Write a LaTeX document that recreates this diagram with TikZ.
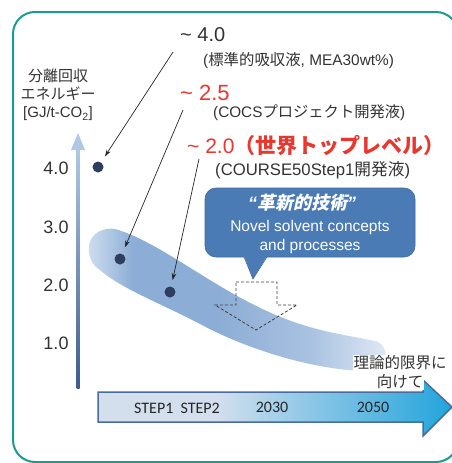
\documentclass[tikz,border=0pt]{standalone}
\usepackage{fontspec}
\setmainfont{Liberation Sans}
\newfontfamily\cjk{Noto Sans CJK JP}
\newfontfamily\cjkit[FakeSlant=0.22]{Noto Sans CJK JP}
\newfontfamily\carl{Carlito}
\usetikzlibrary{arrows.meta}
\definecolor{frameteal}{HTML}{1B9A90}
\definecolor{txtgray}{HTML}{333333}
\definecolor{redtxt}{HTML}{E8372E}
\definecolor{dotblue}{HTML}{2F3D5E}
\definecolor{axtop}{HTML}{AFC8E3}
\definecolor{axbot}{HTML}{3D5C8C}
\definecolor{bandL}{HTML}{D3E2F2}
\definecolor{bandM}{HTML}{8CADD5}
\definecolor{bandN}{HTML}{A9C2E1}
\definecolor{bandR}{HTML}{E1EAF5}
\definecolor{callblue}{HTML}{4A7BB5}
\definecolor{callline}{HTML}{41699C}
\definecolor{arrL}{HTML}{D4DFEE}
\definecolor{arrM}{HTML}{72C3E7}
\definecolor{arrR}{HTML}{1FA3DB}
\definecolor{arrline}{HTML}{4A6B9D}
\pgfdeclarehorizontalshading{bandshade}{100bp}{color(0bp)=(bandL); color(25bp)=(bandL); color(33bp)=(bandM); color(47bp)=(bandM); color(62bp)=(bandN); color(75bp)=(bandR); color(100bp)=(bandR)}
\begin{document}
\begin{tikzpicture}[x=1pt,y=-1pt,
  lbl/.style={text=txtgray, inner sep=0pt, anchor=west},
  ptr/.style={draw=black!85, line width=0.7pt, -{Stealth[length=7pt,width=4.5pt]}},
  dotmark/.style={circle, fill=dotblue, minimum size=11pt, inner sep=0pt},
  ticklbl/.style={text=txtgray, inner sep=0pt, font=\fontsize{18}{18}\selectfont},
  alab/.style={text=black!85, inner sep=0pt, font=\carl\fontsize{16}{16}\selectfont},
  goal/.style={text=txtgray, fill=white, inner sep=1pt, font=\cjk\fontsize{15.5}{15.5}\selectfont},
  ]
\useasboundingbox (0,0) rectangle (452,463);
% frame
\draw[frameteal, line width=2pt, rounded corners=22pt] (13,12) rectangle (458,462);

% band
\shade[shading=bandshade]
  (100,270) .. controls (86,262) and (84,238) .. (100,231)
  .. controls (105,229) and (110,228) .. (115,229)
  .. controls (165,243) and (225,300) .. (300,324)
  .. controls (330,334) and (360,337) .. (378,342)
  .. controls (390,348) and (388,368) .. (372,371)
  .. controls (330,372) and (260,356) .. (200,324)
  .. controls (160,303) and (120,288) .. (100,270) -- cycle;

% axis
\shade[top color=axtop, bottom color=axbot] (76.5,148) rectangle (79.5,388);
\fill[axtop] (71,150) -- (78,133) -- (85,150) -- cycle;

% axis title
\node[text=txtgray, inner sep=0pt, align=center, font=\fontsize{15}{18}\selectfont] (ylab) at (58,95)
  {{\cjk 分離回収}\\{\cjk エネルギー}\\{[}GJ/t-CO\textsubscript{2}{]}};

% tick labels
\node[ticklbl] (l4) at (56,168) {4.0};
\node[ticklbl] (l3) at (56,227) {3.0};
\node[ticklbl] (l2) at (56,285) {2.0};
\node[ticklbl] (l1) at (56,343) {1.0};

% dots
\node[dotmark] (d1) at (98,167) {};
\node[dotmark] (d2) at (120,259) {};
\node[dotmark] (d3) at (170,292) {};

% annotations
\node[lbl, font=\fontsize{20}{20}\selectfont] (t40) at (180,35) {\textasciitilde\ 4.0};
\node[lbl, font=\fontsize{15.4}{15.4}\selectfont] (t40s) at (203,61) {({\cjk 標準的吸収液}, MEA30wt\%)};
\node[lbl, text=redtxt, font=\fontsize{22}{22}\selectfont] (t25) at (180,93) {\textasciitilde\ 2.5};
\node[lbl, font=\fontsize{15.3}{15.3}\selectfont] (t25s) at (213,113) {(COCS{\cjk プロジェクト開発液})};
\node[lbl, text=redtxt, font=\fontsize{21}{21}\selectfont] (t20) at (187,145) {\textasciitilde\ 2.0{\cjk\bfseries （世界トップレベル）}};
\node[lbl, font=\fontsize{16.7}{16.7}\selectfont] (t20s) at (215,170) {(COURSE50Step1{\cjk 開発液})};

\coordinate (s1) at (173,52);
\coordinate (s2) at (183,110);
\coordinate (s3) at (199,159);
\draw[ptr, shorten >=7pt] (s1) -- (d1);
\draw[ptr, shorten >=7pt] (s2) -- (d2);
\draw[ptr, shorten >=6.5pt] (s3) -- (d3);

% callout
\filldraw[fill=callblue, draw=callline, line width=0.6pt, rounded corners=11pt] (205,188) rectangle (415,257);
\fill[callblue] (244,256) -- (253,279) -- (267,256) -- cycle;
\draw[callline, line width=0.6pt] (244,257) -- (253,279) -- (267,257);
\node[text=white, inner sep=0pt, font=\fontsize{18}{18}\selectfont] (ctitle) at (302,203)
  {{\bfseries\itshape “}{\cjkit\bfseries 革新的技術}{\bfseries\itshape ”}};
\node[text=white, inner sep=0pt, align=center, font=\fontsize{15.5}{19}\selectfont] (cbody) at (310,237)
  {Novel solvent concepts\\and processes};

% dashed down arrow
\draw[draw=black!75, line width=0.8pt, dash pattern=on 3pt off 2pt]
  (236,282) -- (277,282) -- (277,305) -- (297,305) -- (256,330) -- (215,305) -- (236,305) -- cycle;

% time arrow
\begin{scope}
  \clip (98,392) -- (423,392) -- (423,380) -- (452,407) -- (423,436) -- (423,422) -- (98,422) -- cycle;
  \fill[arrL] (90,370) rectangle (460,440);
  \shade[left color=arrL, middle color=arrM, right color=arrR] (215,370) rectangle (455,440);
\end{scope}
\draw[arrline, line width=1.5pt, line join=miter]
  (98,392) -- (423,392) -- (423,380) -- (452,407) -- (423,436) -- (423,422) -- (98,422) -- cycle;
\node[alab] (s12) at (177,408) {STEP1\ \ STEP2};
\node[alab] (y2030) at (272,407) {2030};
\node[alab] (y2050) at (373,407) {2050};

\node[goal] (goal1) at (400,363) {理論的限界に};
\node[goal] (goal2) at (400,382) {向けて};
\end{tikzpicture}
\end{document}
